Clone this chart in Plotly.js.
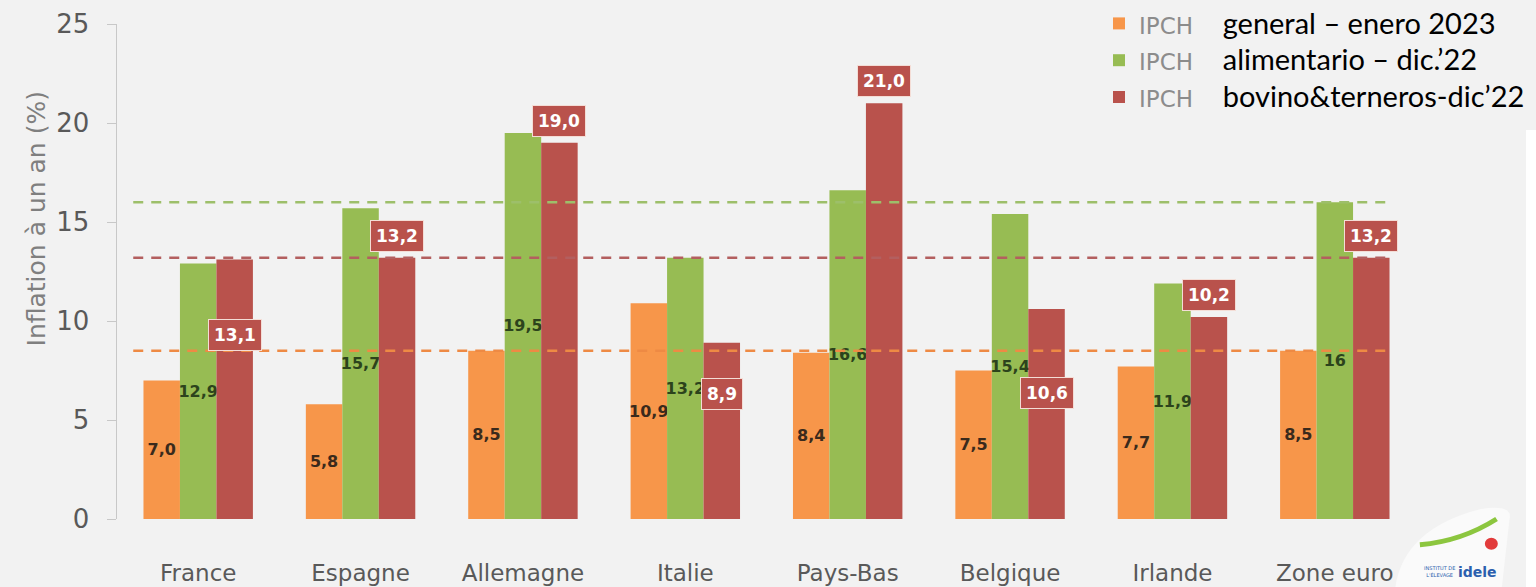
<!DOCTYPE html>
<html>
<head>
<meta charset="utf-8">
<script src="https://cdn.plot.ly/plotly-3.0.1.min.js"></script>
<style>
  html, body { margin: 0; padding: 0; background: #f2f2f2; }
  #chart { width: 1536px; height: 587px; }
</style>
</head>
<body>
<div id="chart"></div>
<script>
// pays / zones
const countries = ['France', 'Espagne', 'Allemagne', 'Italie', 'Pays-Bas', 'Belgique', 'Irlande', 'Zone euro'];

// IPCH général (janv. 2023), alimentaire (déc. 22), bovins & veaux (déc. 22)
const general = [7.0, 5.8, 8.5, 10.9, 8.4, 7.5, 7.7, 8.5];
const alimentario = [12.9, 15.7, 19.5, 13.2, 16.6, 15.4, 11.9, 16];
const bovino = [13.1, 13.2, 19.0, 8.9, 21.0, 10.6, 10.2, 13.2];

// étiquettes telles qu'affichées
const generalText = ['7,0', '5,8', '8,5', '10,9', '8,4', '7,5', '7,7', '8,5'];
const alimentarioText = ['12,9', '15,7', '19,5', '13,2', '16,6', '15,4', '11,9', '16'];
const bovinoText = ['13,1', '13,2', '19,0', '8,9', '21,0', '10,6', '10,2', '13,2'];

const seriesNames = ['general – enero 2023', 'alimentario – dic.’22', 'bovino&terneros-dic’22'];
const yTicks = [0, 5, 10, 15, 20, 25];

// étiquette rouge : fraction de la hauteur si dans la barre, null = au-dessus
const bovinoLabelInside = [0.71, null, null, 0.71, null, 0.6, null, null];

const colors = { general: '#f7964a', alim: '#97bc53', bov: '#b9524c' };
const BARGAP = 0.326;
const barW = (1 - BARGAP) / 3;

const legendName = (txt) =>
  '<span style="font-family:DejaVu Sans;font-size:23px;color:#8c8c8c">IPCH</span>' +
  '<span style="font-size:29px">    ' + txt + '</span>';

const labelFont = { family: 'DejaVu Sans', size: 16, weight: 'bold' };

const traceGeneral = {
  x: countries, y: general, name: legendName(seriesNames[0]), type: 'bar',
  marker: { color: colors.general },
  text: generalText, textposition: 'inside', insidetextanchor: 'middle', textangle: 0,
  constraintext: 'none',
  textfont: Object.assign({ color: '#3a2a1c' }, labelFont),
  hoverinfo: 'skip'
};
const traceAlim = {
  x: countries, y: alimentario, name: legendName(seriesNames[1]), type: 'bar',
  marker: { color: colors.alim },
  text: alimentarioText, textposition: 'inside', insidetextanchor: 'middle', textangle: 0,
  constraintext: 'none',
  textfont: Object.assign({ color: '#2c431c' }, labelFont),
  hoverinfo: 'skip'
};
const traceBov = {
  x: countries, y: bovino, name: legendName(seriesNames[2]), type: 'bar',
  marker: { color: colors.bov },
  hoverinfo: 'skip'
};

// étiquettes encadrées pour la série bovine
const annotations = bovino.map((v, i) => {
  const frac = bovinoLabelInside[i];
  const inside = frac !== null;
  return {
    x: i + barW, y: inside ? v * frac : v,
    xref: 'x', yref: 'y',
    text: bovinoText[i], showarrow: false,
    yanchor: inside ? 'middle' : 'bottom', yshift: inside ? 0 : 6,
    font: { family: 'DejaVu Sans', size: 17, weight: 'bold', color: '#ffffff' },
    bgcolor: colors.bov, bordercolor: '#f4ddd6', borderwidth: 1, borderpad: 5
  };
});

// titre de l'axe Y (placé un peu au-dessus du centre, comme l'original)
annotations.push({
  xref: 'paper', yref: 'paper', x: -0.062, y: 0.606,
  text: 'Inflation à un an (%)', textangle: -90, showarrow: false,
  xanchor: 'center', yanchor: 'middle',
  font: { family: 'DejaVu Sans', size: 25, color: '#7f7f7f' }
});

// logo idele (approx.)
annotations.push({
  xref: 'paper', yref: 'paper', x: 1.047, y: -0.107,
  xanchor: 'center', yanchor: 'middle',
  text: '<b>idele</b>', showarrow: false,
  font: { family: 'DejaVu Sans', size: 14, color: '#2b5fae' }
});
annotations.push({
  xref: 'paper', yref: 'paper', x: 1.018, y: -0.107,
  xanchor: 'center', yanchor: 'middle',
  text: 'INSTITUT DE<br>L\'ÉLEVAGE', showarrow: false,
  font: { family: 'DejaVu Sans', size: 5, color: '#2b5fae' }
});

const last = countries.length - 1;
const refLine = (val, col) => ({
  type: 'line', xref: 'x', yref: 'y',
  x0: -0.4, x1: last + 0.33, y0: val, y1: val,
  line: { color: col, width: 2.5, dash: '10px,8px' }, layer: 'above'
});

const shapes = [
  refLine(alimentario[last], '#9dbf6a'),
  refLine(bovino[last], '#b35f5f'),
  refLine(general[last], '#ee8a44'),
  // bande blanche à droite
  { type: 'rect', xref: 'paper', yref: 'paper', x0: 1.0847, x1: 1.2, y0: -0.2, y1: 0.786,
    fillcolor: '#ffffff', line: { width: 0 }, layer: 'below' },
  // fond du logo
  { type: 'path', xref: 'paper', yref: 'paper',
    path: 'M 0.984 -0.14 Q 0.99 -0.02 1.05 0.02 Q 1.075 0.03 1.072 0.0 L 1.066 -0.14 Z',
    fillcolor: '#fafafa', line: { width: 0 }, layer: 'below' },
  { type: 'path', xref: 'paper', yref: 'paper',
    path: 'M 1.003 -0.052 Q 1.035 -0.045 1.062 0.0',
    line: { color: '#8cc63f', width: 5 } },
  { type: 'circle', xref: 'paper', yref: 'paper',
    x0: 1.053, x1: 1.063, y0: -0.062, y1: -0.038,
    fillcolor: '#e23b3b', line: { width: 0 } }
];

const layout = {
  width: 1536, height: 587,
  margin: { l: 117, r: 120, t: 24, b: 68, autoexpand: false },
  paper_bgcolor: '#f2f2f2', plot_bgcolor: '#f2f2f2',
  barmode: 'group', bargap: BARGAP, bargroupgap: 0,
  xaxis: {
    type: 'category', range: [-0.5, last + 0.5],
    showline: false, showgrid: false, zeroline: false,
    ticks: 'outside', ticklen: 33, tickcolor: 'rgba(0,0,0,0)',
    tickfont: { family: 'DejaVu Sans', size: 23, color: '#595959' }
  },
  yaxis: {
    range: [0, 25], tickvals: yTicks, ticktext: yTicks.map(String),
    showline: true, linecolor: '#c8c8c8', linewidth: 1.5,
    showgrid: false, zeroline: false,
    ticks: 'outside', ticklen: 9, tickcolor: '#c8c8c8',
    ticklabelstandoff: 12,
    tickfont: { family: 'DejaVu Sans', size: 26, color: '#595959' }
  },
  showlegend: true,
  legend: {
    xref: 'container', yref: 'container',
    x: 0.7155, xanchor: 'left', y: 1.007, yanchor: 'top',
    bgcolor: 'rgba(0,0,0,0)', traceorder: 'normal',
    font: { family: 'Lato', size: 26, color: '#000000' }
  },
  annotations: annotations,
  shapes: shapes
};

Plotly.newPlot('chart', [traceGeneral, traceAlim, traceBov], layout,
  { displayModeBar: false, staticPlot: true });
</script>
</body>
</html>
